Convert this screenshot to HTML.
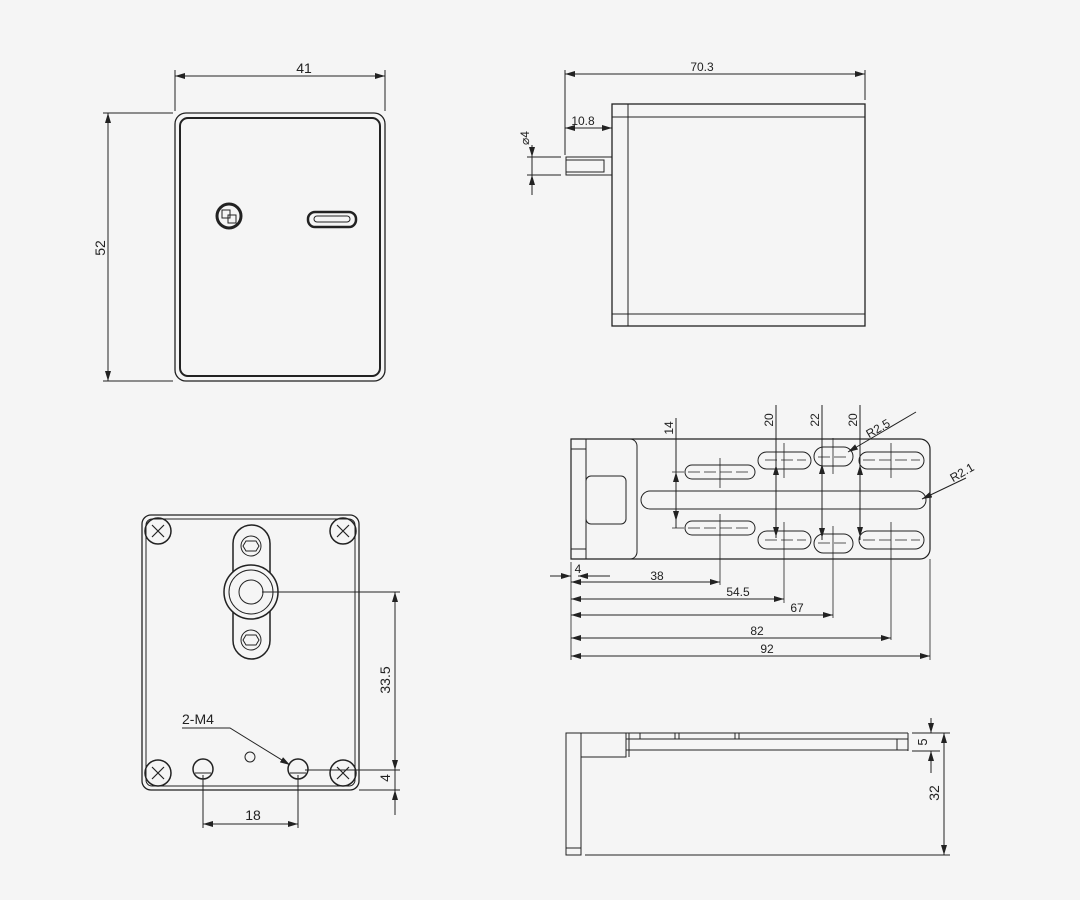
<!DOCTYPE html>
<html><head><meta charset="utf-8"><style>
html,body{margin:0;padding:0;background:#f5f5f5}
svg{display:block}
text{font-family:"Liberation Sans",sans-serif;fill:#222}
</style></head><body>
<svg width="1080" height="900" viewBox="0 0 1080 900" xmlns="http://www.w3.org/2000/svg">
<defs>
<marker id="a" viewBox="0 0 10 6" refX="10" refY="3" markerWidth="10" markerHeight="6" orient="auto-start-reverse" markerUnits="userSpaceOnUse"><path d="M0,0 L10,3 L0,6z" fill="#222"/></marker>
</defs>
<rect width="1080" height="900" fill="#f5f5f5"/>
<g fill="none" stroke="#222" stroke-width="1">
<!-- TOP LEFT -->
<rect x="175" y="113" width="210" height="268" rx="11" stroke-width="1.3"/>
<rect x="180" y="118" width="200" height="258" rx="8" stroke-width="2"/>
<line x1="175" y1="70" x2="175" y2="111"/><line x1="385" y1="70" x2="385" y2="111"/>
<line x1="175" y1="76" x2="385" y2="76" marker-start="url(#a)" marker-end="url(#a)"/>
<line x1="103" y1="113" x2="173" y2="113"/><line x1="103" y1="381" x2="173" y2="381"/>
<line x1="108" y1="113" x2="108" y2="381" marker-start="url(#a)" marker-end="url(#a)"/>
<circle cx="229" cy="216" r="12" stroke-width="3"/>
<rect x="222" y="210" width="8" height="8" stroke-width="1"/><rect x="228" y="215" width="8" height="8" stroke-width="1"/>
<rect x="308" y="212" width="48" height="15" rx="7" stroke-width="2.5"/>
<rect x="314" y="216" width="36" height="6" rx="3" stroke-width="1"/>
<!-- TOP RIGHT -->
<rect x="612" y="104" width="253" height="222" stroke-width="1.3"/>
<line x1="628" y1="104" x2="628" y2="326"/>
<line x1="612" y1="117" x2="865" y2="117"/><line x1="612" y1="314" x2="865" y2="314"/>
<rect x="566" y="157" width="46" height="18"/><rect x="566" y="160" width="38" height="12"/>
<line x1="565" y1="70" x2="565" y2="155"/><line x1="865" y1="70" x2="865" y2="100"/>
<line x1="565" y1="74" x2="865" y2="74" marker-start="url(#a)" marker-end="url(#a)"/>
<line x1="565" y1="128" x2="612" y2="128" marker-start="url(#a)" marker-end="url(#a)"/>
<line x1="527" y1="157" x2="561" y2="157"/><line x1="527" y1="175" x2="561" y2="175"/>
<line x1="532" y1="145" x2="532" y2="157" marker-end="url(#a)"/><line x1="532" y1="195" x2="532" y2="175" marker-end="url(#a)"/>
<line x1="532" y1="157" x2="532" y2="175"/>
<!-- MIDDLE RIGHT -->
<path d="M571,439 H920 A10,10 0 0 1 930,449 V549 A10,10 0 0 1 920,559 H571 Z" stroke-width="1.2"/>
<line x1="586" y1="439" x2="586" y2="559"/>
<line x1="571" y1="449" x2="586" y2="449"/><line x1="571" y1="549" x2="586" y2="549"/>
<path d="M586,439 H630 A7,7 0 0 1 637,446 V552 A7,7 0 0 1 630,559 H586"/>
<rect x="586" y="476" width="40" height="48" rx="5"/>
<rect x="641" y="491" width="285" height="18" rx="9"/>
<rect x="685" y="465" width="70" height="14" rx="7"/><rect x="685" y="521" width="70" height="14" rx="7"/>
<rect x="758" y="452" width="53" height="17" rx="8.5"/><rect x="758" y="531" width="53" height="18" rx="9"/>
<rect x="814" y="447" width="39" height="19" rx="9.5"/><rect x="814" y="534" width="39" height="19" rx="9.5"/>
<rect x="859" y="452" width="65" height="17" rx="8.5"/><rect x="859" y="531" width="65" height="18" rx="9"/>
<g stroke-dasharray="12,4" stroke-width="0.8">
<line x1="672" y1="472" x2="750" y2="472"/><line x1="672" y1="528" x2="750" y2="528"/>
<line x1="765" y1="460" x2="806" y2="460"/><line x1="765" y1="540" x2="806" y2="540"/>
<line x1="818" y1="457" x2="850" y2="457"/><line x1="818" y1="543" x2="850" y2="543"/>
<line x1="863" y1="460" x2="920" y2="460"/><line x1="863" y1="540" x2="920" y2="540"/>
</g>
<g stroke-width="0.8">
<line x1="720" y1="458" x2="720" y2="488"/><line x1="720" y1="514" x2="720" y2="585"/>
<line x1="784" y1="443" x2="784" y2="478"/><line x1="784" y1="522" x2="784" y2="603"/>
<line x1="833" y1="438" x2="833" y2="474"/><line x1="833" y1="526" x2="833" y2="618"/>
<line x1="891" y1="443" x2="891" y2="478"/><line x1="891" y1="522" x2="891" y2="640"/>
<line x1="930" y1="559" x2="930" y2="660"/><line x1="571" y1="562" x2="571" y2="660"/>
</g>
<line x1="676" y1="418" x2="676" y2="528"/>
<line x1="676" y1="500" x2="676" y2="472" marker-end="url(#a)"/><line x1="676" y1="500" x2="676" y2="521" marker-end="url(#a)"/>
<line x1="776" y1="405" x2="776" y2="538"/>
<line x1="776" y1="500" x2="776" y2="465" marker-end="url(#a)"/><line x1="776" y1="500" x2="776" y2="537" marker-end="url(#a)"/>
<line x1="822" y1="405" x2="822" y2="540"/>
<line x1="822" y1="500" x2="822" y2="464" marker-end="url(#a)"/><line x1="822" y1="500" x2="822" y2="538" marker-end="url(#a)"/>
<line x1="860" y1="405" x2="860" y2="540"/>
<line x1="860" y1="500" x2="860" y2="465" marker-end="url(#a)"/><line x1="860" y1="500" x2="860" y2="537" marker-end="url(#a)"/>
<line x1="916" y1="412" x2="848" y2="452" marker-end="url(#a)"/>
<line x1="966" y1="478" x2="922" y2="499" marker-end="url(#a)"/>
<line x1="550" y1="576" x2="571" y2="576" marker-end="url(#a)"/><line x1="610" y1="576" x2="578" y2="576" marker-end="url(#a)"/>
<line x1="571" y1="582" x2="720" y2="582" marker-start="url(#a)" marker-end="url(#a)"/>
<line x1="571" y1="599" x2="784" y2="599" marker-start="url(#a)" marker-end="url(#a)"/>
<line x1="571" y1="615" x2="833" y2="615" marker-start="url(#a)" marker-end="url(#a)"/>
<line x1="571" y1="638" x2="891" y2="638" marker-start="url(#a)" marker-end="url(#a)"/>
<line x1="571" y1="656" x2="930" y2="656" marker-start="url(#a)" marker-end="url(#a)"/>
<!-- BOTTOM LEFT -->
<rect x="142" y="515" width="217" height="275" rx="9" stroke-width="1.3"/>
<rect x="146" y="519" width="209" height="267" rx="6"/>
<g stroke-width="1.5">
<circle cx="158" cy="531" r="13"/><circle cx="343" cy="531" r="13"/>
<circle cx="158" cy="773" r="13"/><circle cx="343" cy="773" r="13"/>
</g>
<g stroke-width="1.2">
<path d="M152,525 L164,537 M164,525 L152,537"/><path d="M337,525 L349,537 M349,525 L337,537"/>
<path d="M152,767 L164,779 M164,767 L152,779"/><path d="M337,767 L349,779 M349,767 L337,779"/>
</g>
<rect x="233" y="525" width="37" height="134" rx="18.5" stroke-width="1.5"/>
<circle cx="251" cy="592" r="27" stroke-width="1.5" fill="#f5f5f5"/><circle cx="251" cy="592" r="22"/><circle cx="251" cy="592" r="12"/>
<circle cx="251" cy="546" r="10"/><path d="M246,541 h10 l3,5 l-3,5 h-10 l-3,-5z"/>
<circle cx="251" cy="640" r="10"/><path d="M246,635 h10 l3,5 l-3,5 h-10 l-3,-5z"/>
<circle cx="203" cy="769" r="10" stroke-width="1.5"/><line x1="195" y1="773" x2="211" y2="773"/>
<circle cx="298" cy="769" r="10" stroke-width="1.5"/><line x1="290" y1="773" x2="306" y2="773"/>
<circle cx="250" cy="757" r="5"/>
<line x1="262" y1="592" x2="400" y2="592"/><line x1="305" y1="770" x2="400" y2="770"/><line x1="359" y1="790" x2="400" y2="790"/>
<line x1="395" y1="592" x2="395" y2="770" marker-start="url(#a)" marker-end="url(#a)"/>
<line x1="395" y1="815" x2="395" y2="790" marker-end="url(#a)"/>
<line x1="395" y1="770" x2="395" y2="790"/>
<line x1="203" y1="775" x2="203" y2="828"/><line x1="298" y1="775" x2="298" y2="828"/>
<line x1="203" y1="824" x2="298" y2="824" marker-start="url(#a)" marker-end="url(#a)"/>
<path d="M182,728 H230 L290,765" marker-end="url(#a)"/>
<!-- BOTTOM RIGHT -->
<rect x="566" y="733" width="15" height="122"/><line x1="566" y1="848" x2="581" y2="848"/>
<rect x="581" y="733" width="45" height="24"/>
<line x1="626" y1="733" x2="908" y2="733"/><line x1="626" y1="739" x2="908" y2="739"/>
<line x1="626" y1="750" x2="908" y2="750"/><line x1="908" y1="733" x2="908" y2="751"/>
<line x1="897" y1="739" x2="897" y2="750"/><line x1="629" y1="733" x2="629" y2="757"/>
<line x1="640" y1="733" x2="640" y2="739"/><line x1="675" y1="733" x2="675" y2="739"/><line x1="679" y1="733" x2="679" y2="739"/>
<line x1="735" y1="733" x2="735" y2="739"/><line x1="739" y1="733" x2="739" y2="739"/>
<line x1="912" y1="733" x2="950" y2="733"/><line x1="912" y1="751" x2="940" y2="751"/>
<line x1="931" y1="718" x2="931" y2="733" marker-end="url(#a)"/><line x1="931" y1="773" x2="931" y2="751" marker-end="url(#a)"/>
<line x1="585" y1="855" x2="950" y2="855"/>
<line x1="944" y1="733" x2="944" y2="855" marker-start="url(#a)" marker-end="url(#a)"/>
</g>
<g font-size="14">
<text x="304" y="73" text-anchor="middle">41</text>
<text transform="translate(105,248) rotate(-90)" text-anchor="middle">52</text>
<text x="702" y="71" text-anchor="middle" font-size="12">70.3</text>
<text x="583" y="125" text-anchor="middle" font-size="12">10.8</text>
<text transform="translate(529,138) rotate(-90)" text-anchor="middle" font-size="12">⌀4</text>
<g font-size="12">
<text transform="translate(673,428) rotate(-90)" text-anchor="middle">14</text>
<text transform="translate(773,420) rotate(-90)" text-anchor="middle">20</text>
<text transform="translate(819,420) rotate(-90)" text-anchor="middle">22</text>
<text transform="translate(857,420) rotate(-90)" text-anchor="middle">20</text>
<text transform="translate(880,432) rotate(-30)" text-anchor="middle">R2.5</text>
<text transform="translate(964,476) rotate(-30)" text-anchor="middle">R2.1</text>
<text x="578" y="573" text-anchor="middle">4</text>
<text x="657" y="580" text-anchor="middle">38</text>
<text x="738" y="596" text-anchor="middle">54.5</text>
<text x="797" y="612" text-anchor="middle">67</text>
<text x="757" y="635" text-anchor="middle">82</text>
<text x="767" y="653" text-anchor="middle">92</text>
</g>
<text transform="translate(390,680) rotate(-90)" text-anchor="middle">33.5</text>
<text transform="translate(390,778) rotate(-90)" text-anchor="middle">4</text>
<text x="253" y="820" text-anchor="middle">18</text>
<text x="182" y="724">2-M4</text>
<text transform="translate(927,742) rotate(-90)" text-anchor="middle" font-size="13">5</text>
<text transform="translate(939,793) rotate(-90)" text-anchor="middle">32</text>
</g>
</svg>
</body></html>
